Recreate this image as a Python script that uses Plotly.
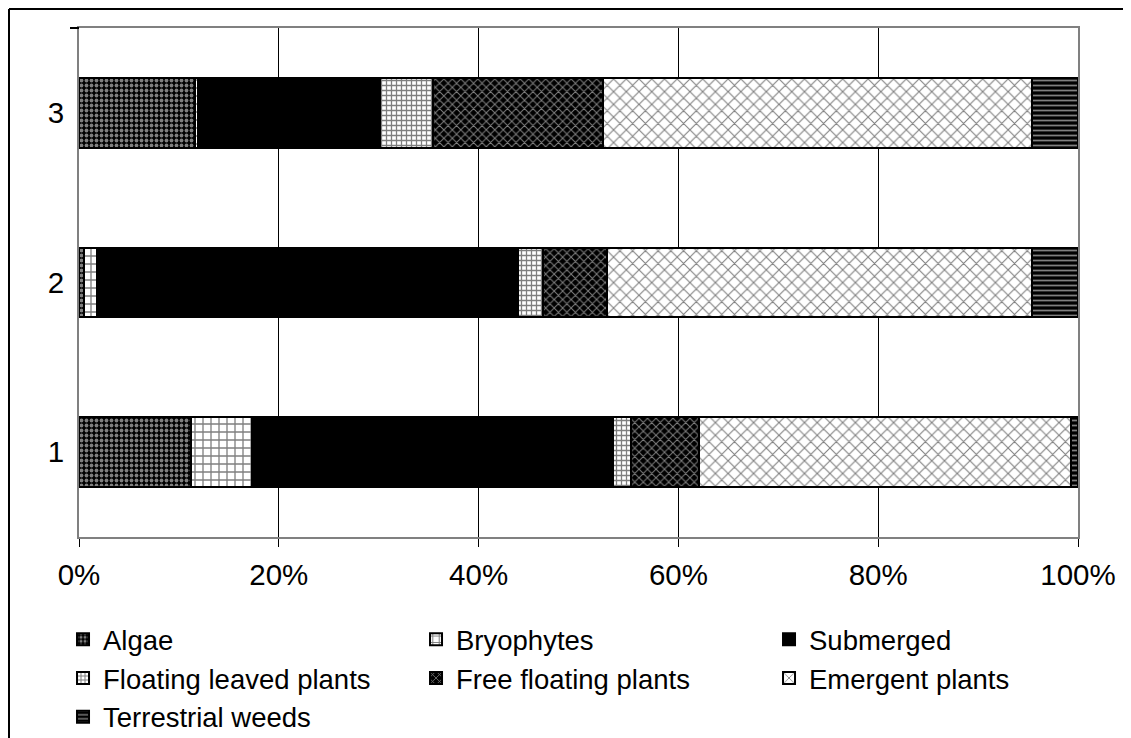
import plotly.graph_objects as go

categories = ["1", "2", "3"]
series_names = ["Algae", "Bryophytes", "Submerged", "Floating leaved plants",
                "Free floating plants", "Emergent plants", "Terrestrial weeds"]
algae = [11.2, 0.5, 11.6]
bryophytes = [6.1, 1.3, 0.3]
submerged = [36.2, 42.1, 18.2]
floating_leaved = [1.8, 2.5, 5.3]
free_floating = [6.8, 6.5, 17.1]
emergent = [37.2, 42.5, 42.9]
terrestrial = [0.7, 4.6, 4.6]
x_ticks = [0, 20, 40, 60, 80, 100]
x_tick_labels = ["0%", "20%", "40%", "60%", "80%", "100%"]

values = [algae, bryophytes, submerged, floating_leaved, free_floating, emergent, terrestrial]
patterns = [
    dict(shape=".", size=5, solidity=0.45, fgcolor="white", bgcolor="black", fillmode="overlay"),
    dict(shape="+", size=8, solidity=0.3, fgcolor="black", bgcolor="white", fillmode="overlay"),
    None,
    dict(shape="+", size=5, solidity=0.45, fgcolor="black", bgcolor="white", fillmode="overlay"),
    dict(shape="x", size=6, solidity=0.3, fgcolor="white", bgcolor="black", fillmode="overlay"),
    dict(shape="x", size=9, solidity=0.22, fgcolor="black", bgcolor="white", fillmode="overlay"),
    dict(shape="-", size=5, solidity=0.35, fgcolor="white", bgcolor="black", fillmode="overlay"),
]

fig = go.Figure()
for name, vals, pat in zip(series_names, values, patterns):
    marker = dict(color="black" if pat is None else "white",
                  line=dict(color="black", width=2))
    if pat is not None:
        marker["pattern"] = pat
    fig.add_trace(go.Bar(y=categories, x=vals, name=name, orientation="h", marker=marker))

# page has an 8px body margin; the figure fills the rest of the 1131x738 window
W, H = 1123, 730
L, T = 71, 20
pw, ph = 999, 509
R, B = W - L - pw, H - T - ph

fig.update_layout(
    width=W, height=H,
    margin=dict(l=L, r=R, t=T, b=B, autoexpand=False),
    barmode="stack", bargap=0.59,
    paper_bgcolor="white", plot_bgcolor="white",
    font=dict(family="Liberation Sans, Arial, sans-serif", size=29.5, color="black"),
    showlegend=True,
    legend=dict(orientation="h", x=-0.016, y=-0.153, xanchor="left", yanchor="top",
                traceorder="normal", entrywidth=308, entrywidthmode="pixels",
                itemwidth=30, font=dict(size=27.5), bgcolor="rgba(0,0,0,0)"),
    xaxis=dict(range=[0, 100], tickvals=x_ticks, ticktext=x_tick_labels,
               showgrid=True, gridcolor="black", gridwidth=1,
               showline=True, linecolor="#808080", linewidth=2, mirror=True,
               ticks="outside", ticklen=8, tickcolor="black", tickwidth=1,
               ticklabelstandoff=3, zeroline=False, fixedrange=True),
    yaxis=dict(showgrid=False, showline=True, linecolor="#808080", linewidth=2, mirror=True,
               ticks="", ticklabelstandoff=7, fixedrange=True),
    shapes=[
        # outer frame (left and top edges)
        dict(type="line", xref="paper", yref="paper",
             x0=(1 - L) / pw, x1=(1 - L) / pw, y0=1 + (T - 1) / ph, y1=-(B + 5) / ph,
             line=dict(color="black", width=2)),
        dict(type="line", xref="paper", yref="paper",
             x0=(1 - L) / pw, x1=1 + (R + 5) / pw, y0=1 + (T - 1) / ph, y1=1 + (T - 1) / ph,
             line=dict(color="black", width=2)),
        # category axis tick at the top
        dict(type="line", xref="paper", yref="paper",
             x0=-9 / pw, x1=0, y0=1, y1=1, line=dict(color="black", width=2)),
    ],
)

fig.write_html("out.html")
